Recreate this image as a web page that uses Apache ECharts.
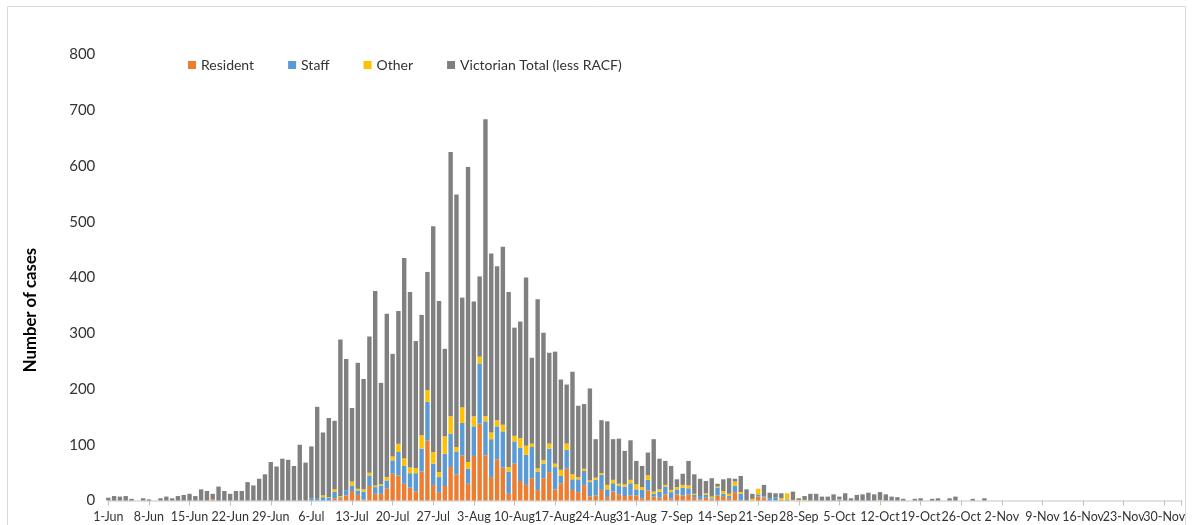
<!DOCTYPE html>
<html>
<head>
<meta charset="utf-8">
<script src="https://cdn.jsdelivr.net/npm/echarts@6/dist/echarts.min.js"></script>
<style>
html,body{margin:0;padding:0;background:#fff;}
#chart{width:1203px;height:525px;}
</style>
</head>
<body>
<div id="chart"></div>
<script>
// Category days: 1-Jun .. 3-Dec (axis range)
const months = [['Jun',30],['Jul',31],['Aug',31],['Sep',30],['Oct',31],['Nov',30],['Dec',3]];
const categories = [];
months.forEach(function(m){ for (let d = 1; d <= m[1]; d++) categories.push(d + '-' + m[0]); });
// a tick label every 7 days, starting at 1-Jun
const tickEvery = 7;

const seriesNames = ['Resident','Staff','Other','Victorian Total (less RACF)'];

// index 0 = 1-Jun
const resident = [
 0,0,0,0,0,0,0,0,0,0,
 0,0,0,0,0,0,0,0,2,0,
 0,0,0,0,0,0,0,0,0,0,
 0,0,0,0,0,0,0,0,0,4,
 4,9,17,10,2,26,12,12,22,48,
 45,30,23,16,52,108,28,15,26,60,
 47,81,30,80,138,81,42,74,59,12,
 66,35,28,40,19,40,51,20,31,57,
 19,15,28,7,9,19,6,16,11,8,
 9,9,4,18,7,5,11,4,11,9,
 11,6,2,5,2,9,8,4,15,1,
 0,0,7,4,0,0,1,0,0,0
];
const staff = [
 1,0,0,0,0,0,0,0,0,0,
 0,0,0,0,0,0,0,0,0,0,
 0,0,0,0,0,0,0,0,0,0,
 0,0,0,0,0,4,3,6,5,12,
 2,9,10,8,14,19,12,15,14,24,
 42,32,26,33,41,69,38,27,58,60,
 41,58,27,53,108,61,68,59,65,40,
 40,60,54,56,33,26,42,40,13,34,
 19,23,25,26,28,27,14,15,16,17,
 22,11,15,19,5,11,14,11,9,14,
 11,4,6,5,2,14,4,4,12,11,
 1,0,4,2,4,6,0,2,0,0,
 0,0,0,0,0,0,1,0,0,0
];
const other = [
 0,0,0,0,0,0,0,0,0,0,
 0,0,0,0,0,0,0,0,0,0,
 0,0,0,0,0,0,0,0,0,0,
 0,0,0,0,0,0,0,3,1,4,
 2,0,7,3,4,5,3,2,6,7,
 15,14,10,9,24,21,21,9,31,31,
 8,28,12,18,12,9,12,11,12,8,
 10,17,16,6,6,6,9,6,11,11,
 9,4,4,3,4,3,8,6,3,4,
 6,9,5,8,4,4,3,4,4,5,
 5,2,0,3,3,2,5,4,7,3,
 0,3,10,1,0,0,3,11,1,1,
 1,0,0,0,0,0,1,0,0,0,
 0,0,0,1,0,0,0,0,0,0
];
const victorianLessRACF = [
 4,8,7,8,3,0,4,2,0,4,
 7,4,8,10,12,8,20,17,10,25,
 17,12,17,17,33,27,39,47,69,61,
 75,73,62,100,68,93,165,113,142,123,
 281,236,132,226,198,244,349,182,293,184,
 238,359,315,228,216,212,405,307,157,474,
 453,197,529,206,144,533,321,276,319,314,
 194,209,302,154,303,229,163,201,162,106,
 184,128,116,165,69,95,114,73,81,60,
 71,42,38,41,94,55,43,43,14,20,
 44,35,31,22,33,5,21,28,5,29,
 19,9,0,21,10,7,9,0,15,3,
 7,12,12,7,7,11,5,13,4,10,
 11,14,11,14,11,7,6,3,0,3,
 4,0,3,4,0,4,7,0,0,3,
 0,4
];

const yTicks = {min: 0, max: 800, interval: 100};
const colors = ['#ED7D31','#5B9BD5','#FFC000','#808080'];
const FONT = 'Lato, "Open Sans", sans-serif';

const chart = echarts.init(document.getElementById('chart'), null, {renderer: 'canvas'});
const dataSets = [resident, staff, other, victorianLessRACF];

chart.setOption({
  animation: false,
  color: colors,
  textStyle: {fontFamily: FONT},
  grid: {left: 108.3, right: 21.3, top: 54.5, bottom: 24.5},
  legend: {
    left: 183, top: 53,
    itemWidth: 8, itemHeight: 8, itemGap: 34,
    icon: 'rect',
    textStyle: {fontSize: 14, color: '#333', fontFamily: FONT},
    data: seriesNames
  },
  xAxis: {
    type: 'category',
    data: categories,
    boundaryGap: false,
    axisLine: {show: true, lineStyle: {color: '#d9d9d9', width: 1.5}},
    axisTick: {show: true, interval: tickEvery - 1, length: 5, lineStyle: {color: '#bfbfbf'}},
    axisLabel: {
      interval: 0,
      formatter: function(v, i){ return i % tickEvery === 0 ? v : ''; },
      fontSize: 12.5, color: '#333', margin: 10, fontFamily: FONT
    },
    splitLine: {show: false}
  },
  yAxis: {
    type: 'value',
    min: yTicks.min, max: yTicks.max, interval: yTicks.interval,
    axisLine: {show: false},
    axisTick: {show: false},
    splitLine: {show: false},
    axisLabel: {fontSize: 15, color: '#333', margin: 13, fontFamily: FONT}
  },
  graphic: [
    {type: 'rect', shape: {x: 7.5, y: 6.5, width: 1178, height: 600}, style: {fill: 'none', stroke: '#d9d9d9', lineWidth: 1}, silent: true, z: -1},
    {type: 'text', x: 31, y: 310, rotation: Math.PI / 2,
     style: {text: 'Number of cases', font: 'bold 16.7px ' + FONT, fill: '#000', textAlign: 'center', textVerticalAlign: 'middle'}}
  ],
  series: seriesNames.map(function(name, k){
    return {
      name: name, type: 'bar', stack: 'total',
      barWidth: 4.4,
      clip: true,
      data: dataSets[k],
      itemStyle: {color: colors[k]}
    };
  })
});
</script>
</body>
</html>
